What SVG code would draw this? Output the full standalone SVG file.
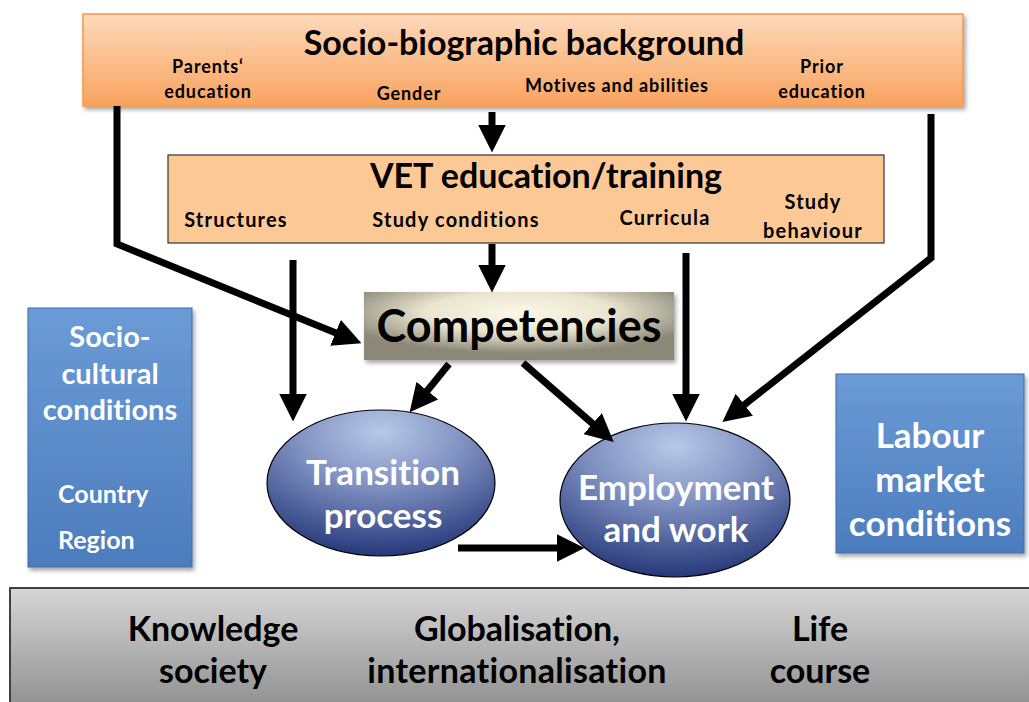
<svg xmlns="http://www.w3.org/2000/svg" width="1029" height="702" viewBox="0 0 1029 702">
<style>
text{font-family:Lato,"Open Sans","Liberation Sans",sans-serif;font-weight:bold;text-anchor:middle;font-variant-ligatures:none}
.dk{fill:#000}
.wh{fill:#fff}
.sm{font-size:18px;letter-spacing:0.9px}
.conn{fill:none;stroke:#000;stroke-width:7;stroke-linejoin:miter;marker-end:url(#ah)}
</style>
<defs>
<marker id="ah" viewBox="0 0 28 28" markerWidth="28" markerHeight="28" markerUnits="userSpaceOnUse" refX="0.5" refY="14" orient="auto"><path d="M0,0 L28,14 L0,28 z" fill="#000"/></marker>
<linearGradient id="gOr" x1="0" y1="0" x2="0" y2="1"><stop offset="0" stop-color="#fdd9bb"/><stop offset="1" stop-color="#f9a35e"/></linearGradient>
<radialGradient id="gComp" cx="0.5" cy="0.3" r="0.6"><stop offset="0" stop-color="#fbf8e8"/><stop offset="0.5" stop-color="#e9e5cf"/><stop offset="1" stop-color="#8c8878"/></radialGradient>
<linearGradient id="gBlue" x1="0" y1="0" x2="0" y2="1"><stop offset="0" stop-color="#6b9bd6"/><stop offset="1" stop-color="#4c7cbd"/></linearGradient>
<radialGradient id="gEll" cx="0.5" cy="0.15" r="0.85"><stop offset="0" stop-color="#b8c8e8"/><stop offset="0.45" stop-color="#7e90c0"/><stop offset="1" stop-color="#26387a"/></radialGradient>
<linearGradient id="gGray" x1="0" y1="0" x2="0" y2="1"><stop offset="0" stop-color="#d6d6d6"/><stop offset="1" stop-color="#8a8a8a"/></linearGradient>
<filter id="sh" x="-10%" y="-10%" width="125%" height="130%"><feDropShadow dx="2" dy="3" stdDeviation="2" flood-color="#000" flood-opacity="0.35"/></filter>
</defs>

<g id="bottom-band">
<rect x="10" y="588" width="1030" height="130" fill="url(#gGray)" stroke="#404040" stroke-width="2"/>
<text class="dk" x="213" y="641" font-size="34">Knowledge</text>
<text class="dk" x="213" y="683" font-size="34">society</text>
<text class="dk" x="517" y="641" font-size="34">Globalisation,</text>
<text class="dk" x="517" y="683" font-size="34" letter-spacing="0.3">internationalisation</text>
<text class="dk" x="820" y="641" font-size="34">Life</text>
<text class="dk" x="820" y="683" font-size="34">course</text>
</g>

<g id="socio-biographic">
<rect x="83" y="14" width="880" height="92" fill="url(#gOr)" stroke="#f79646" stroke-width="1.5" filter="url(#sh)"/>
<text class="dk" x="524" y="55" font-size="34">Socio-biographic background</text>
<text class="dk sm" x="208" y="73">Parents‘</text>
<text class="dk sm" x="208" y="98">education</text>
<text class="dk sm" x="409" y="100">Gender</text>
<text class="dk sm" x="617" y="92">Motives and abilities</text>
<text class="dk sm" x="822" y="73">Prior</text>
<text class="dk sm" x="822" y="98">education</text>
</g>

<g id="vet">
<rect x="168" y="155" width="716" height="88" fill="#fcc895" stroke="#333" stroke-width="1.2"/>
<text class="dk" x="546" y="188" font-size="34">VET education/training</text>
<text class="dk" x="236" y="227" font-size="20" letter-spacing="1.2">Structures</text>
<text class="dk" x="456" y="227" font-size="20" letter-spacing="1.2">Study conditions</text>
<text class="dk" x="665" y="225" font-size="20" letter-spacing="1.2">Curricula</text>
<text class="dk" x="813" y="209" font-size="20" letter-spacing="1.2">Study</text>
<text class="dk" x="813" y="238" font-size="20" letter-spacing="1.2">behaviour</text>
</g>

<g id="competencies">
<rect x="364" y="292" width="310" height="68" fill="url(#gComp)" filter="url(#sh)"/>
<text class="dk" x="519" y="342" font-size="45">Competencies</text>
</g>

<g id="socio-cultural">
<rect x="28" y="308" width="164" height="259" fill="url(#gBlue)" stroke="#3f6ca8" stroke-width="1" filter="url(#sh)"/>
<text class="wh" x="110" y="347" font-size="29">Socio-</text>
<text class="wh" x="110" y="384" font-size="29">cultural</text>
<text class="wh" x="110" y="420" font-size="29">conditions</text>
<text class="wh" x="58" y="503" font-size="25" style="text-anchor:start">Country</text>
<text class="wh" x="58" y="549" font-size="25" style="text-anchor:start">Region</text>
</g>

<g id="labour-market">
<rect x="836" y="374" width="188" height="179" fill="url(#gBlue)" stroke="#3f6ca8" stroke-width="1" filter="url(#sh)"/>
<text class="wh" x="930" y="448" font-size="35">Labour</text>
<text class="wh" x="930" y="492" font-size="35">market</text>
<text class="wh" x="930" y="536" font-size="35">conditions</text>
</g>

<g id="transition">
<ellipse cx="381" cy="483" rx="114" ry="73" fill="url(#gEll)" stroke="#000" stroke-width="1.2"/>
<text class="wh" x="383" y="485" font-size="35">Transition</text>
<text class="wh" x="383" y="528" font-size="35">process</text>
</g>

<g id="employment">
<ellipse cx="675" cy="500" rx="115" ry="77" fill="url(#gEll)" stroke="#000" stroke-width="1.2"/>
<text class="wh" x="676" y="500" font-size="35">Employment</text>
<text class="wh" x="676" y="542" font-size="35">and work</text>
</g>

<g id="connectors">
<path class="conn" d="M117,106 V244 L336,333"/>
<path class="conn" d="M492,112 V125"/>
<path class="conn" d="M492,244 V265"/>
<path class="conn" d="M293,260 V394"/>
<path class="conn" d="M449,364 L427,391"/>
<path class="conn" d="M523,363 L593,424"/>
<path class="conn" d="M686,253 V394"/>
<path class="conn" d="M931,114 V258 L744,405"/>
<path class="conn" d="M458,548 H557"/>
</g>
</svg>
